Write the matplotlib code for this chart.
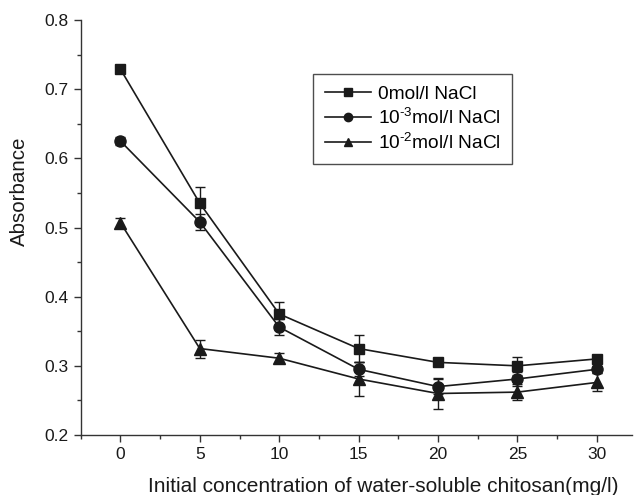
import matplotlib
matplotlib.use("Agg")
import matplotlib.pyplot as plt
from matplotlib.ticker import MultipleLocator
from matplotlib.lines import Line2D

plt.rcParams['font.family'] = ['Liberation Sans', 'DejaVu Sans']
plt.rcParams['mathtext.fontset'] = 'custom'
plt.rcParams['mathtext.rm'] = 'Liberation Sans'

conc = [0, 5, 10, 15, 20, 25, 30]
abs_0 = [0.729, 0.535, 0.375, 0.325, 0.305, 0.300, 0.310]
err_0 = [0.004, 0.024, 0.017, 0.020, 0.004, 0.013, 0.004]
abs_3 = [0.625, 0.508, 0.356, 0.295, 0.270, 0.281, 0.295]
err_3 = [0.006, 0.011, 0.012, 0.010, 0.011, 0.010, 0.005]
abs_2 = [0.507, 0.325, 0.311, 0.281, 0.260, 0.262, 0.276]
err_2 = [0.007, 0.013, 0.007, 0.024, 0.022, 0.012, 0.013]
labels = ['0mol/l NaCl', r'10$^{\text{-3}}$mol/l NaCl', r'10$^{\text{-2}}$mol/l NaCl']

fig = plt.figure(figsize=(6.34, 4.95), dpi=100)
ax = fig.add_axes([0.1273, 0.1212, 0.8691, 0.8384])

col = '#1a1a1a'
series = [(abs_0, err_0, 's', 7.0), (abs_3, err_3, 'o', 8.0), (abs_2, err_2, '^', 8.5)]
handles = []
for (vals, errs, mk, ms), lab in zip(series, labels):
    ax.errorbar(conc, vals, yerr=errs, fmt='-', marker=mk, color=col, ms=ms,
                lw=1.2, elinewidth=1.0, capsize=3.6, capthick=1.0, zorder=3)
    handles.append(Line2D([], [], color=col, marker=mk, ms=ms * 0.75, lw=1.2, label=lab))

ax.set_xlim(-2.5, 32.2)
ax.set_ylim(0.2, 0.8)
ax.xaxis.set_major_locator(MultipleLocator(5))
ax.xaxis.set_minor_locator(MultipleLocator(2.5))
ax.yaxis.set_major_locator(MultipleLocator(0.1))
ax.yaxis.set_minor_locator(MultipleLocator(0.05))
ax.yaxis.set_major_formatter(matplotlib.ticker.FormatStrFormatter('%.1f'))

for s in ['top', 'right']:
    ax.spines[s].set_visible(False)
for s in ['left', 'bottom']:
    ax.spines[s].set_linewidth(1.0)
    ax.spines[s].set_color('#333333')

ax.tick_params(which='major', direction='out', length=5, width=1.0, color='#333333',
               labelsize=12.5, labelcolor='#1a1a1a')
ax.tick_params(which='minor', direction='out', length=3, width=1.0, color='#333333')

ax.set_xlabel('Initial concentration of water-soluble chitosan(mg/l)', fontsize=15,
              color='#1a1a1a')
ax.set_ylabel('Absorbance', fontsize=14.8, color='#1a1a1a')
ax.xaxis.set_label_coords(0.5486, -0.100)
ax.yaxis.set_label_coords(-0.094, 0.587)

leg = ax.legend(handles=handles, loc='upper left', bbox_to_anchor=(0.4216, 0.870),
                borderaxespad=0, fancybox=False, frameon=True, edgecolor='#222222',
                fontsize=13.8, handlelength=2.4, handletextpad=0.4, labelspacing=0.22,
                borderpad=0.6)
leg.get_frame().set_linewidth(1.0)

fig.savefig('out.png', dpi=100)
